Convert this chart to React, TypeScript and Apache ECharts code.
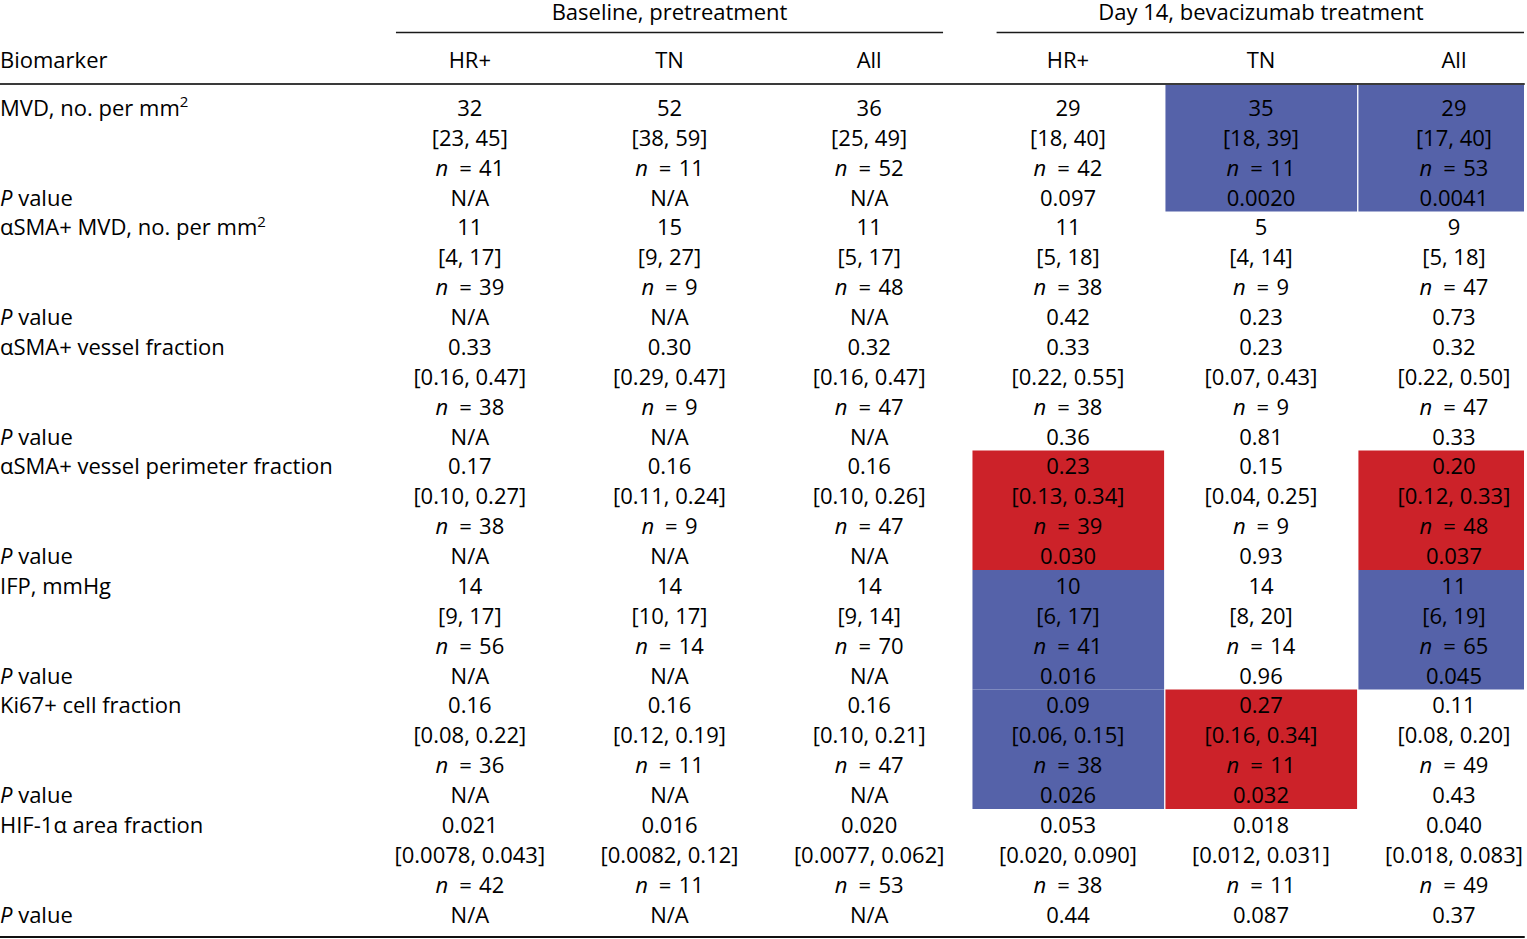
import React, { useEffect, useRef } from "react";
import * as echarts from "echarts";

// ---------- data ----------
const groupTitles = ["Baseline, pretreatment", "Day 14, bevacizumab treatment"];
const subgroups = ["HR+", "TN", "All"];
const headerLabel = "Biomarker";

const biomarkers = [
  "MVD, no. per mm{sup|2}",
  "αSMA+ MVD, no. per mm{sup|2}",
  "αSMA+ vessel fraction",
  "αSMA+ vessel perimeter fraction",
  "IFP, mmHg",
  "Ki67+ cell fraction",
  "HIF-1α area fraction",
];

// columns: baseline HR+, TN, All, day14 HR+, TN, All
const medians = [
  ["32", "52", "36", "29", "35", "29"],
  ["11", "15", "11", "11", "5", "9"],
  ["0.33", "0.30", "0.32", "0.33", "0.23", "0.32"],
  ["0.17", "0.16", "0.16", "0.23", "0.15", "0.20"],
  ["14", "14", "14", "10", "14", "11"],
  ["0.16", "0.16", "0.16", "0.09", "0.27", "0.11"],
  ["0.021", "0.016", "0.020", "0.053", "0.018", "0.040"],
];

const iqrs = [
  ["[23, 45]", "[38, 59]", "[25, 49]", "[18, 40]", "[18, 39]", "[17, 40]"],
  ["[4, 17]", "[9, 27]", "[5, 17]", "[5, 18]", "[4, 14]", "[5, 18]"],
  ["[0.16, 0.47]", "[0.29, 0.47]", "[0.16, 0.47]", "[0.22, 0.55]", "[0.07, 0.43]", "[0.22, 0.50]"],
  ["[0.10, 0.27]", "[0.11, 0.24]", "[0.10, 0.26]", "[0.13, 0.34]", "[0.04, 0.25]", "[0.12, 0.33]"],
  ["[9, 17]", "[10, 17]", "[9, 14]", "[6, 17]", "[8, 20]", "[6, 19]"],
  ["[0.08, 0.22]", "[0.12, 0.19]", "[0.10, 0.21]", "[0.06, 0.15]", "[0.16, 0.34]", "[0.08, 0.20]"],
  ["[0.0078, 0.043]", "[0.0082, 0.12]", "[0.0077, 0.062]", "[0.020, 0.090]", "[0.012, 0.031]", "[0.018, 0.083]"],
];

const ns = [
  [41, 11, 52, 42, 11, 53],
  [39, 9, 48, 38, 9, 47],
  [38, 9, 47, 38, 9, 47],
  [38, 9, 47, 39, 9, 48],
  [56, 14, 70, 41, 14, 65],
  [36, 11, 47, 38, 11, 49],
  [42, 11, 53, 38, 11, 49],
];

const baselineP = "N/A";
const day14P = [
  ["0.097", "0.0020", "0.0041"],
  ["0.42", "0.23", "0.73"],
  ["0.36", "0.81", "0.33"],
  ["0.030", "0.93", "0.037"],
  ["0.016", "0.96", "0.045"],
  ["0.026", "0.032", "0.43"],
  ["0.44", "0.087", "0.37"],
];

// highlighted day-14 cells: [biomarker index, subgroup index, direction]
const highlights: [number, number, "down" | "up"][] = [
  [0, 1, "down"],
  [0, 2, "down"],
  [3, 0, "up"],
  [3, 2, "up"],
  [4, 0, "down"],
  [4, 2, "down"],
  [5, 0, "down"],
  [5, 1, "up"],
];

// ---------- styling ----------
const FONT = '"Open Sans", "Noto Sans", sans-serif';
const FS = 22;
const TEXT = "#000000";
const BLUE = "#5562A9";
const RED = "#CC2229";
const ROWS_PER = 4;
const ROW_MIN = -0.8;
const ROW_MAX = 27.75;
const HEADER_ROW = -1.6;
const GROUP_LINE_ROW = -2.52;
const GROUP_TITLE_ROW = -3.2;
const TEXT_DY = -1;

const rich = {
  i: { fontStyle: "italic", fontSize: FS, fontFamily: FONT, fill: TEXT },
  sup: { fontSize: 15, fontFamily: FONT, fill: TEXT, verticalAlign: "top", lineHeight: 26 },
};

type TItem = { col: number; row: number; text: string };

function buildLabelItems(): TItem[] {
  const out: TItem[] = [{ col: 0, row: HEADER_ROW, text: headerLabel }];
  biomarkers.forEach((b, i) => {
    out.push({ col: 0, row: i * ROWS_PER, text: b });
    out.push({ col: 0, row: i * ROWS_PER + 3, text: "{i|P} value" });
  });
  return out;
}

function buildGroupItems(offset: number, isDay14: boolean): TItem[] {
  const out: TItem[] = [];
  subgroups.forEach((s, c) => out.push({ col: c, row: HEADER_ROW, text: s }));
  biomarkers.forEach((_, b) => {
    for (let c = 0; c < 3; c++) {
      const g = offset + c;
      const r = b * ROWS_PER;
      out.push({ col: c, row: r, text: medians[b][g] });
      out.push({ col: c, row: r + 1, text: iqrs[b][g] });
      out.push({ col: c, row: r + 2, text: "{i|n}\u2002=\u2004" + ns[b][g] });
      out.push({ col: c, row: r + 3, text: isDay14 ? day14P[b][c] : baselineP });
    }
  });
  return out;
}

function textEl(x: number, y: number, text: string, align: string) {
  return {
    type: "text",
    x,
    y: y + TEXT_DY,
    style: {
      text,
      fill: TEXT,
      fontSize: FS,
      fontFamily: FONT,
      align,
      verticalAlign: "middle",
      rich,
    },
  };
}

function textSeries(items: TItem[], gridIdx: number, align: string) {
  return {
    type: "custom",
    xAxisIndex: gridIdx * 2,
    yAxisIndex: gridIdx,
    z: 5,
    clip: false,
    data: items.map((d) => [d.col, d.row]),
    renderItem: (params: any, api: any) => {
      const it = items[params.dataIndex];
      const [x, y] = api.coord([api.value(0), api.value(1)]);
      return textEl(x, y, it.text, align);
    },
  };
}

function groupTitleSeries(title: string, gridIdx: number) {
  return {
    type: "custom",
    xAxisIndex: gridIdx * 2,
    yAxisIndex: gridIdx,
    z: 5,
    clip: false,
    data: [[1, GROUP_TITLE_ROW]],
    renderItem: (params: any, api: any) => {
      const [x, y] = api.coord([api.value(0), api.value(1)]);
      const [x1, ly] = api.coord([api.value(0) - 1.37, GROUP_LINE_ROW]);
      const [x2] = api.coord([api.value(0) + 1.37, GROUP_LINE_ROW]);
      return {
        type: "group",
        children: [
          textEl(x, y, title, "center"),
          {
            type: "line",
            shape: { x1, y1: ly, x2: Math.min(x2, params.coordSys.x + params.coordSys.width), y2: ly },
            style: { stroke: "#1a1a1a", lineWidth: 1.5 },
          },
        ],
      };
    },
  };
}

function cellSeries() {
  return {
    type: "custom",
    xAxisIndex: 4,
    yAxisIndex: 2,
    z: 2,
    clip: false,
    data: highlights.map((h) => [h[1], h[0] * ROWS_PER]),
    renderItem: (params: any, api: any) => {
      const h = highlights[params.dataIndex];
      const col = api.value(0);
      const r0 = api.value(1);
      const [xl, yTop0] = api.coord([col - 0.495, r0 - 0.5]);
      const [xr, yBot] = api.coord([col + 0.498, r0 + ROWS_PER - 0.5]);
      const cs = params.coordSys;
      const yTop = r0 === 0 ? cs.y + 1 : yTop0;
      const shape = echarts.graphic.clipRectByRect(
        { x: xl, y: yTop - 1, width: xr - xl, height: yBot - yTop },
        { x: cs.x, y: cs.y + 1, width: cs.width, height: cs.height }
      );
      if (!shape) return null;
      return {
        type: "rect",
        shape,
        style: { fill: h[2] === "down" ? BLUE : RED },
      };
    },
  };
}

const GRID_TOP = 84;
const GRID_H = 853;
const grids = [
  { left: 0, top: GRID_TOP, width: 370, height: GRID_H },
  { left: 370, top: GRID_TOP, width: 599, height: GRID_H },
  { left: 969, top: GRID_TOP, width: 555, height: GRID_H },
];
const xRanges = [
  [0, 1],
  [-0.5, 2.5],
  [-0.513, 2.363],
];

function buildOption() {
  const xAxis: any[] = [];
  grids.forEach((_, gi) => {
    ["top", "bottom"].forEach((pos) => {
      xAxis.push({
        type: "value",
        gridIndex: gi,
        position: pos,
        min: xRanges[gi][0],
        max: xRanges[gi][1],
        axisLine: {
          show: true,
          onZero: false,
          lineStyle: { color: pos === "top" ? "#3a3a3a" : "#111111", width: 2 },
        },
        axisTick: { show: false },
        axisLabel: { show: false },
        splitLine: { show: false },
      });
    });
  });
  const yAxis = grids.map((_, gi) => ({
    type: "value",
    gridIndex: gi,
    inverse: true,
    min: ROW_MIN,
    max: ROW_MAX,
    show: false,
  }));
  return {
    animation: false,
    backgroundColor: "#ffffff",
    grid: grids,
    xAxis,
    yAxis,
    series: [
      cellSeries(),
      textSeries(buildLabelItems(), 0, "left"),
      textSeries(buildGroupItems(0, false), 1, "center"),
      textSeries(buildGroupItems(3, true), 2, "center"),
      groupTitleSeries(groupTitles[0], 1),
      groupTitleSeries(groupTitles[1], 2),
    ],
  };
}

export default function App() {
  const ref = useRef<HTMLDivElement>(null);
  useEffect(() => {
    if (!ref.current) return;
    const chart = echarts.init(ref.current, null, { renderer: "svg" });
    chart.setOption(buildOption() as any);
    return () => chart.dispose();
  }, []);
  return (
    <div
      ref={ref}
      style={{ position: "fixed", left: 0, top: 0, width: 1527, height: 939, background: "#fff" }}
    />
  );
}
